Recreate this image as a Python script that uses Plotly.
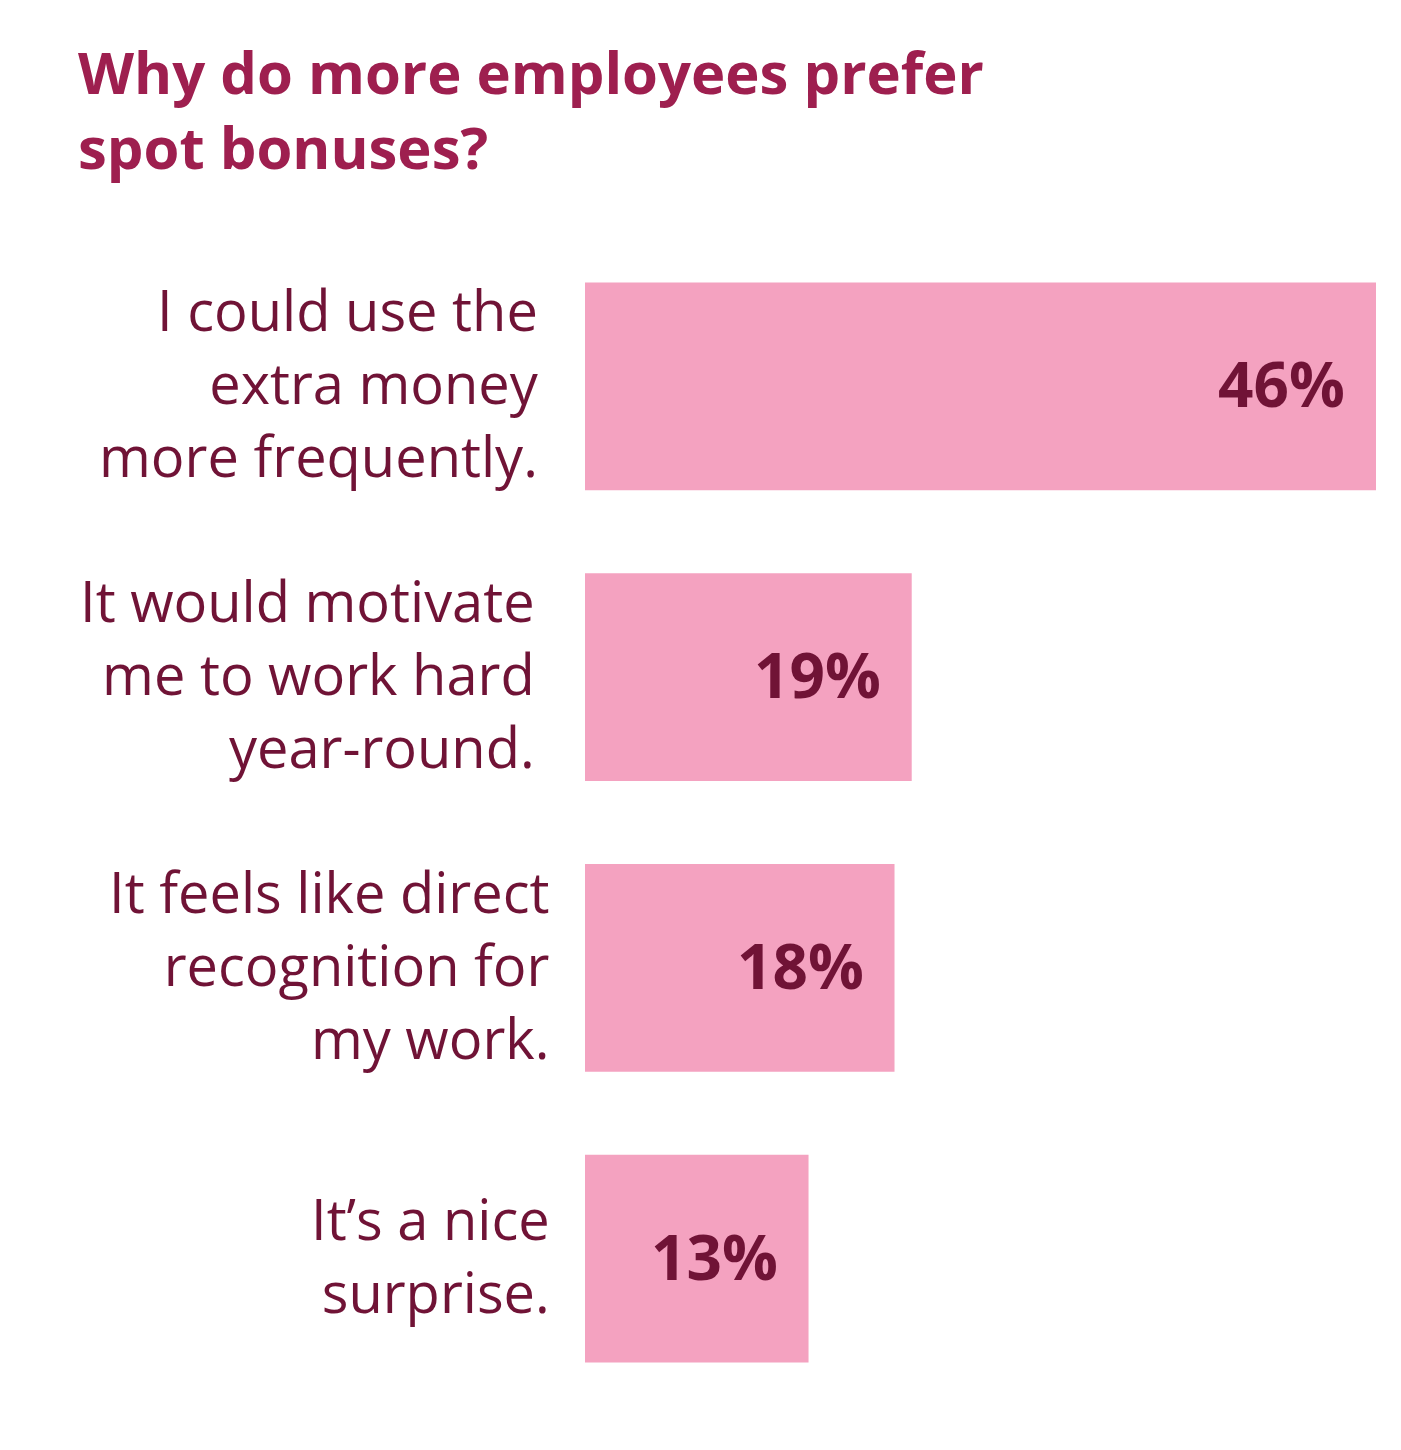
import plotly.graph_objects as go

categories = [
    "I could use the<br>extra money<br>more frequently.",
    "It would motivate<br>me to work hard<br>year-round.",
    "It feels like direct<br>recognition for<br>my work.",
    "It\u2019s a nice<br>surprise.",
]
values = [46, 19, 18, 13]
value_labels = ["46%", "19%", "18%", "13%"]

title_text = "Why do more employees prefer<br>spot bonuses?"

BAR = "#F4A2C0"
DARK = "#701336"
TITLE = "#9E1F4F"

W, H = 1393, 1442
ML, MR, MT, MB = 577, 25, 232.5, 45.5
plot_w = W - ML - MR
plot_h = H - MT - MB

# horizontal offsets (px) of the category label right edges from the bar base
label_xshift = [-44, -48, -33, -33]

fig = go.Figure()
fig.add_trace(go.Bar(
    x=values,
    y=list(range(len(categories))),
    orientation="h",
    marker=dict(color=BAR, line=dict(width=0)),
    hoverinfo="skip",
))

annotations = []
for i, (cat, v, lab) in enumerate(zip(categories, values, value_labels)):
    annotations.append(dict(
        x=0, y=i, xref="x", yref="y", text=cat, showarrow=False,
        xanchor="right", yanchor="middle", align="right",
        xshift=label_xshift[i], yshift=4,
        font=dict(family="Open Sans", size=56, color=DARK, weight=400),
    ))
    annotations.append(dict(
        x=v, y=i, xref="x", yref="y", text="<b>" + lab + "</b>", showarrow=False,
        xanchor="right", yanchor="middle", xshift=-29, yshift=3,
        font=dict(family="Open Sans", size=62, color=DARK),
    ))

annotations.append(dict(
    x=(68 - ML) / plot_w, y=(H - MB - 21) / plot_h,
    xref="paper", yref="paper", text="<b>" + title_text + "</b>",
    showarrow=False, xanchor="left", yanchor="top", align="left",
    font=dict(family="Open Sans", size=58, color=TITLE),
))

fig.update_layout(
    width=W, height=H,
    margin=dict(l=ML, r=MR, t=MT, b=MB, pad=0),
    paper_bgcolor="white", plot_bgcolor="white",
    bargap=0.285,
    showlegend=False,
    xaxis=dict(range=[0, 46], visible=False, fixedrange=True),
    yaxis=dict(range=[3.5, -0.5], visible=False, fixedrange=True),
    annotations=annotations,
)

fig.write_html("out.html")
